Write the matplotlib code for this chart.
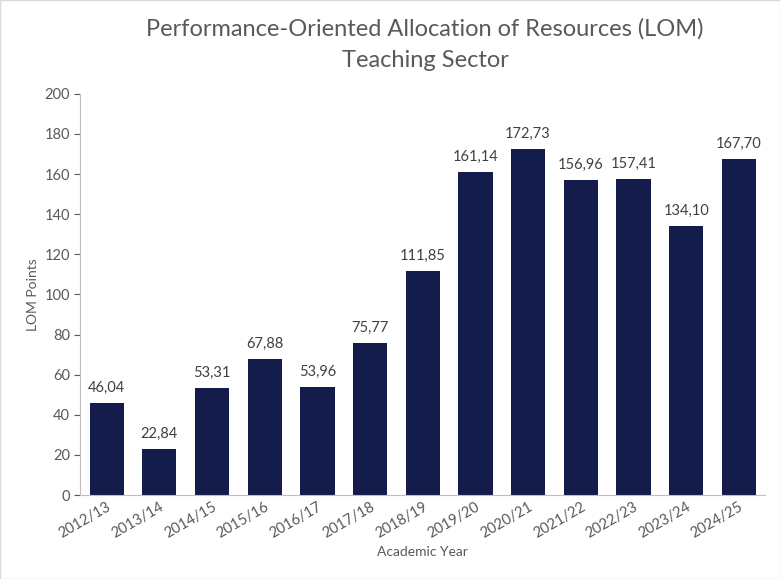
import matplotlib.pyplot as plt

plt.rcParams["font.family"] = ["Lato", "DejaVu Sans"]

# data
years = ["2012/13", "2013/14", "2014/15", "2015/16", "2016/17", "2017/18", "2018/19",
         "2019/20", "2020/21", "2021/22", "2022/23", "2023/24", "2024/25"]
points = [46.04, 22.84, 53.31, 67.88, 53.96, 75.77, 111.85,
          161.14, 172.73, 156.96, 157.41, 134.10, 167.70]

fig = plt.figure(figsize=(7.8, 5.79), dpi=100)
ax = fig.add_axes([0.103, 0.145, 0.878, 0.693])

x = range(len(years))
ax.bar(x, points, width=0.65, color="#141c4c")
for i, v in enumerate(points):
    ax.text(i, v + 4, f"{v:.2f}".replace(".", ","), ha="center", va="bottom",
            fontsize=10.5, color="#404040")

ax.set_xlim(-0.5, len(years) - 0.5)
ax.set_ylim(0, 200)
ax.set_yticks(range(0, 201, 20))
ax.set_xticks(list(x))
ax.set_xticklabels(years, rotation=30, ha="right", rotation_mode="anchor")
ax.tick_params(axis="both", colors="#595959", labelsize=10.5, length=4)
ax.tick_params(axis="x", length=0)
for s in ["top", "right"]:
    ax.spines[s].set_visible(False)
for s in ["left", "bottom"]:
    ax.spines[s].set_color("#bfbfbf")

ax.set_xlabel("Academic Year", fontsize=10, color="#595959")
ax.set_ylabel("LOM Points", fontsize=10, color="#595959")
fig.text(0.545, 0.95, "Performance-Oriented Allocation of Resources (LOM)",
         ha="center", va="center", fontsize=17, color="#595959")
fig.text(0.545, 0.895, "Teaching Sector", ha="center", va="center",
         fontsize=17, color="#595959")

fig.patches.append(plt.Rectangle((0, 0), 1, 1, transform=fig.transFigure,
                                 fill=False, edgecolor="#d9d9d9", lw=1))
fig.savefig("out.png", dpi=100)
